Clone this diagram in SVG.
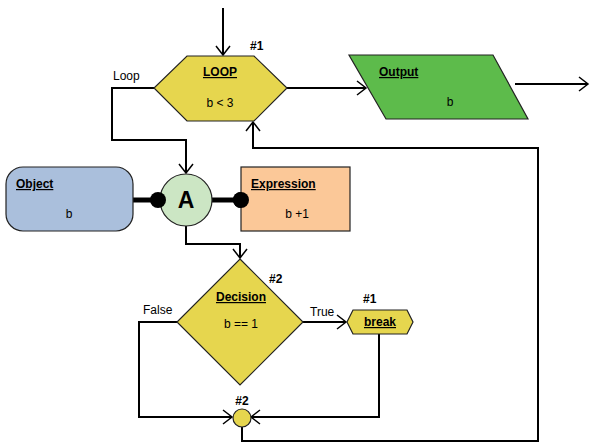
<svg xmlns="http://www.w3.org/2000/svg" width="590" height="443" viewBox="0 0 590 443">
<defs>
<marker id="arr" viewBox="-10 -8 12 16" refX="0" refY="0" markerWidth="12" markerHeight="16" markerUnits="userSpaceOnUse" orient="auto">
<polyline points="-9,-7 0,0 -9,7" fill="none" stroke="#000" stroke-width="1.5"/>
</marker>
<style>
text{font-family:"Liberation Sans",Arial,sans-serif;font-size:12px;fill:#000}
.b{font-weight:bold;text-decoration:underline}
.n{font-weight:bold;font-size:12px}
.shape{stroke:#222;stroke-width:1.2}
.c{fill:none;stroke:#000;stroke-width:2}
.ca{fill:none;stroke:#000;stroke-width:2;marker-end:url(#arr)}
</style>
</defs>
<rect width="590" height="443" fill="#fff"/>
<g id="connectors">
<path class="ca" d="M223,8 V55"/>
<path class="ca" d="M154,88 H112 V140 H186 V173"/>
<path class="ca" d="M287,88 H366"/>
<path class="ca" d="M515,84 H588"/>
<path class="ca" d="M186,226 V244 H240 V258"/>
<path class="ca" d="M303,322 H346"/>
<path class="ca" d="M177,322 H139 V417 H232"/>
<path class="ca" d="M379,334 V417 H251"/>
<path class="ca" d="M242,427 V441 H538 V148 H253 V122"/>
<line x1="133" y1="200" x2="160" y2="200" stroke="#000" stroke-width="5"/>
<line x1="212" y1="200" x2="241" y2="200" stroke="#000" stroke-width="5"/>
</g>
<g id="loop">
<polygon class="shape" points="187,56 254,56 287,88 254,121 187,121 154,88" fill="#E6D64E"/>
<text class="b" x="220" y="76" text-anchor="middle">LOOP</text>
<text x="220" y="107" text-anchor="middle">b &lt; 3</text>
<text class="n" x="250" y="50">#1</text>
<text x="113" y="80">Loop</text>
</g>
<g id="output">
<polygon class="shape" points="349,55 493,55 528,119 386,119" fill="#5DBB4B"/>
<text class="b" x="379" y="76">Output</text>
<text x="450" y="106" text-anchor="middle">b</text>
</g>
<g id="object">
<rect class="shape" x="6" y="167" width="127" height="64" rx="17" fill="#AABFDC"/>
<text class="b" x="16" y="188">Object</text>
<text x="69" y="218" text-anchor="middle">b</text>
</g>
<g id="a-node">
<circle class="shape" cx="186" cy="200" r="26" fill="#CCE6C4"/>
<text x="186" y="208" text-anchor="middle" style="font-weight:bold;font-size:23px">A</text>
<circle cx="158" cy="200" r="8" fill="#000"/>
<circle cx="241" cy="200" r="8" fill="#000"/>
</g>
<g id="expression">
<rect class="shape" x="241" y="167" width="109" height="64" fill="#FBC898"/>
<text class="b" x="251" y="188">Expression</text>
<text x="297" y="218" text-anchor="middle">b +1</text>
<circle cx="241" cy="200" r="8" fill="#000"/>
</g>
<g id="decision">
<polygon class="shape" points="240,259 303,322 240,385 177,322" fill="#E6D64E"/>
<text class="b" x="241" y="301" text-anchor="middle">Decision</text>
<text x="241" y="328" text-anchor="middle">b == 1</text>
<text class="n" x="269" y="283">#2</text>
<text x="143" y="314">False</text>
<text x="310" y="316">True</text>
</g>
<g id="break">
<polygon class="shape" points="353,310 407,310 413,322 407,334 353,334 347,322" fill="#E6D64E"/>
<text class="b" x="380" y="326" text-anchor="middle">break</text>
<text class="n" x="363" y="303">#1</text>
</g>
<g id="merge">
<circle class="shape" cx="242" cy="418" r="9" fill="#E6D64E"/>
<text class="n" x="242" y="405" text-anchor="middle">#2</text>
</g>
</svg>
